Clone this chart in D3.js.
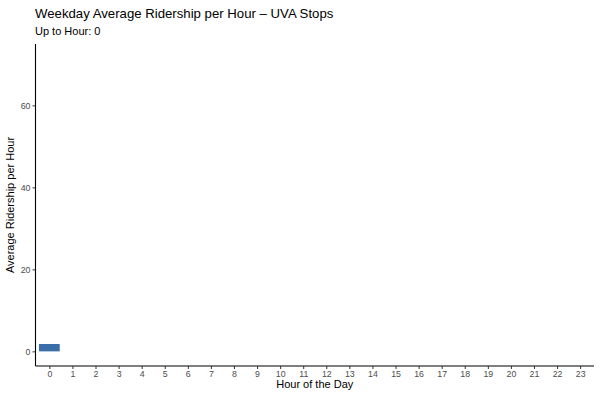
<!DOCTYPE html>
<html>
<head>
<meta charset="utf-8">
<script src="https://cdn.jsdelivr.net/npm/d3@7"></script>
<style>
  body { margin: 0; background: #fff; }
  text { font-family: "Liberation Sans", Arial, sans-serif; }
</style>
</head>
<body>
<svg id="chart" width="600" height="400"></svg>
<script>
// Hours shown on the x axis
const hours = d3.range(0, 24).map(String);
// Bars drawn in this frame (only hour 0 so far)
const shownHours = ["0"];
const shownRidership = [1.8];
// Fixed y limit for the whole animation
const yMax = 71.4;
const yTicks = [0, 20, 40, 60];

const width = 600;
const height = 400;
const margin = { top: 44, right: 6, bottom: 34, left: 35.5 };

const svg = d3.select("#chart");

// x: discrete hours, ggplot-style 0.6 band expansion
const x = d3.scalePoint()
    .domain(hours)
    .range([margin.left + 0.6 * ((width - margin.right - margin.left) / 24.2),
            width - margin.right - 0.6 * ((width - margin.right - margin.left) / 24.2)]);
const step = x.step();

// y: 5% expansion on both sides
const y = d3.scaleLinear()
    .domain([-0.05 * yMax, 1.05 * yMax])
    .range([height - margin.bottom, margin.top]);

// bars
svg.append("g")
  .selectAll("rect")
  .data(shownHours.map((h, i) => ({ hour: h, value: shownRidership[i] })))
  .enter().append("rect")
    .attr("x", d => x(d.hour) - step * 0.45)
    .attr("width", step * 0.9)
    .attr("y", d => y(d.value))
    .attr("height", d => y(0) - y(d.value))
    .attr("fill", "#3a6ea8");

// x axis
const xAxis = svg.append("g")
    .attr("transform", `translate(0,${height - margin.bottom})`)
    .call(d3.axisBottom(x).tickSize(3).tickPadding(2));
xAxis.select(".domain")
    .attr("d", `M${margin.left},0H${width - margin.right}`)
    .attr("stroke", "#000").attr("stroke-width", 1.1);
xAxis.selectAll(".tick line").attr("stroke", "#333");
xAxis.selectAll(".tick text").attr("fill", "#4d4d4d").style("font-size", "8.8px");

// y axis
const yAxis = svg.append("g")
    .attr("transform", `translate(${margin.left},0)`)
    .call(d3.axisLeft(y).tickValues(yTicks).tickSize(3).tickPadding(2));
yAxis.select(".domain")
    .attr("d", `M0,${margin.top}V${height - margin.bottom}`)
    .attr("stroke", "#000").attr("stroke-width", 1.1);
yAxis.selectAll(".tick line").attr("stroke", "#333");
yAxis.selectAll(".tick text").attr("fill", "#4d4d4d").style("font-size", "8.8px");

// titles
svg.append("text")
    .attr("x", 35).attr("y", 17.5)
    .style("font-size", "13.2px").attr("fill", "#000")
    .text("Weekday Average Ridership per Hour – UVA Stops");

svg.append("text")
    .attr("x", 35).attr("y", 35)
    .style("font-size", "11px").attr("fill", "#000")
    .text("Up to Hour: 0");

svg.append("text")
    .attr("x", (margin.left + width - margin.right) / 2)
    .attr("y", 388)
    .attr("text-anchor", "middle")
    .style("font-size", "11px").attr("fill", "#000")
    .text("Hour of the Day");

svg.append("text")
    .attr("transform", `translate(14,${(margin.top + height - margin.bottom) / 2}) rotate(-90)`)
    .attr("text-anchor", "middle")
    .style("font-size", "11px").attr("fill", "#000")
    .text("Average Ridership per Hour");
</script>
</body>
</html>
